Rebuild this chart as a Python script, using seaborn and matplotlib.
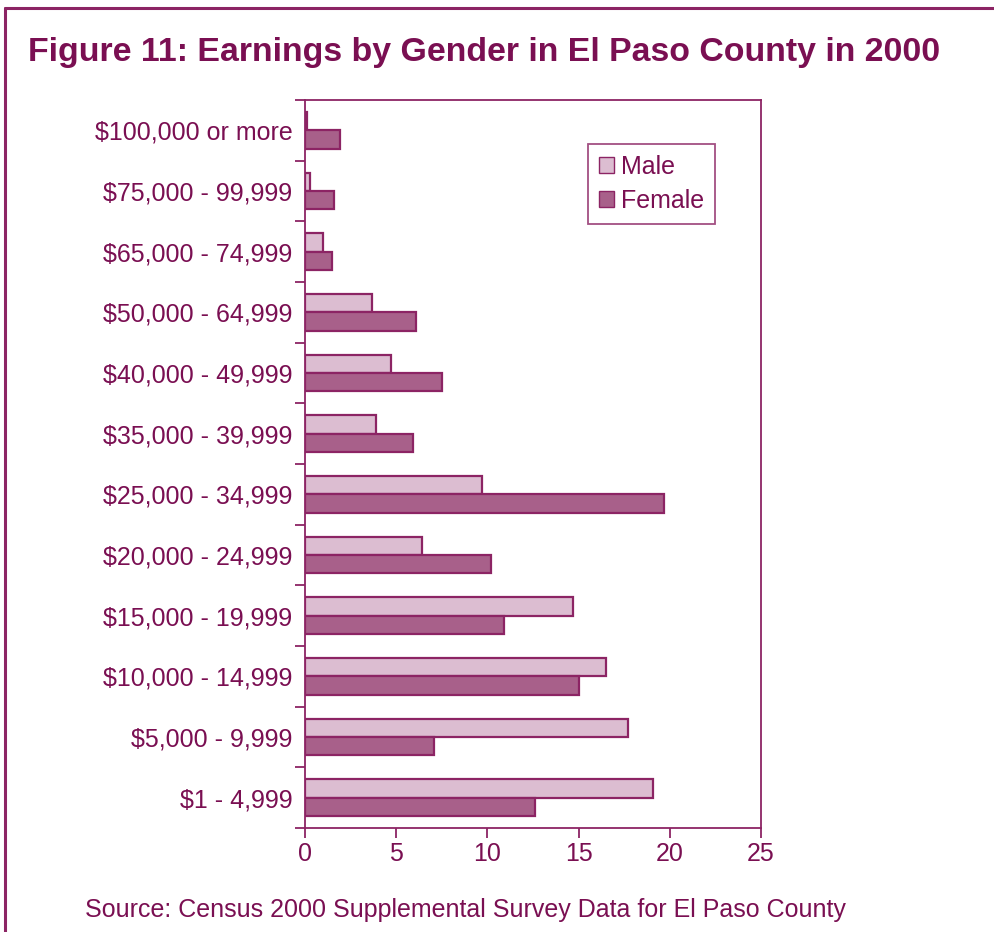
import matplotlib
matplotlib.use("Agg")
import matplotlib.pyplot as plt
from matplotlib.lines import Line2D
from matplotlib.patches import Patch
import seaborn as sns
import pandas as pd
import numpy as np

categories = ["$100,000 or more", "$75,000 - 99,999", "$65,000 - 74,999",
              "$50,000 - 64,999", "$40,000 - 49,999", "$35,000 - 39,999",
              "$25,000 - 34,999", "$20,000 - 24,999", "$15,000 - 19,999",
              "$10,000 - 14,999", "$5,000 - 9,999", "$1 - 4,999"]
male = [0.1, 0.3, 1.0, 3.7, 4.7, 3.9, 9.7, 6.4, 14.7, 16.5, 17.7, 19.1]
female = [1.9, 1.6, 1.5, 6.1, 7.5, 5.9, 19.7, 10.2, 10.9, 15.0, 7.1, 12.6]
x_ticks = [0, 5, 10, 15, 20, 25]

df = pd.DataFrame({
    "Earnings": categories * 2,
    "Percent": male + female,
    "Gender": ["Male"] * len(categories) + ["Female"] * len(categories),
})

sns.set_theme(style="white")
plt.rcParams["font.family"] = ["Liberation Sans", "DejaVu Sans"]

TXT = "#7a0f52"
EDGE = "#8c2464"
MALE_C = "#dcbdd1"
FEMALE_C = "#a8608a"
FS = 18

fig = plt.figure(figsize=(9.95, 9.32), dpi=100)
ax = fig.add_axes([0.3065, 0.1116, 0.4583, 0.7811])

sns.barplot(data=df, y="Earnings", x="Percent", hue="Gender", order=categories,
            hue_order=["Male", "Female"], palette=[MALE_C, FEMALE_C],
            orient="h", width=0.6, dodge=True, edgecolor=EDGE, linewidth=1.6,
            saturation=1, ax=ax, legend=False)

ax.set_xlim(0, 25)
ax.set_ylim(len(categories) - 0.5, -0.5)
ax.set_xticks(x_ticks)
ax.set_xticklabels([str(t) for t in x_ticks])
ax.set_xlabel("")
ax.set_ylabel("")

ax.set_yticks(np.arange(len(categories)))
ax.set_yticklabels(categories)
ax.set_yticks(np.arange(len(categories) + 1) - 0.5, minor=True)
ax.tick_params(axis="y", which="major", length=0, pad=9, labelsize=FS, labelcolor=TXT)
ax.tick_params(axis="y", which="minor", left=True, length=7, width=1.3, color=EDGE, direction="out")
ax.tick_params(axis="x", which="major", bottom=True, length=7, width=1.3, color=EDGE,
               direction="out", pad=3, labelsize=FS, labelcolor=TXT)

for s in ax.spines.values():
    s.set_visible(True)
    s.set_color(EDGE)
    s.set_linewidth(1.3)
ax.grid(False)

handles = [Patch(facecolor=MALE_C, edgecolor=EDGE, label="Male"),
           Patch(facecolor=FEMALE_C, edgecolor=EDGE, label="Female")]
leg = ax.legend(handles=handles, loc="upper left", bbox_to_anchor=(0.621, 0.9396),
                frameon=True, fancybox=False, fontsize=FS, handlelength=0.6,
                handleheight=0.6, handletextpad=0.25, borderpad=0.45, labelspacing=0.4,
                borderaxespad=0)
leg.get_frame().set_edgecolor(EDGE)
leg.get_frame().set_linewidth(1.3)
for t in leg.get_texts():
    t.set_color(TXT)

fig.text(28 / 995, 1 - 52 / 932, "Figure 11: Earnings by Gender in El Paso County in 2000",
         fontsize=24.4, fontweight="bold", color=TXT, ha="left", va="center")
fig.text(85 / 995, 1 - 910 / 932, "Source: Census 2000 Supplemental Survey Data for El Paso County",
         fontsize=18, color=TXT, ha="left", va="center")

# page border
fig.add_artist(Line2D([5 / 995, 1], [1 - 8 / 932, 1 - 8 / 932], transform=fig.transFigure,
                      color=EDGE, linewidth=2.2))
fig.add_artist(Line2D([5 / 995, 5 / 995], [0, 1 - 8 / 932], transform=fig.transFigure,
                      color=EDGE, linewidth=2.2))

fig.savefig("out.png", dpi=100)
